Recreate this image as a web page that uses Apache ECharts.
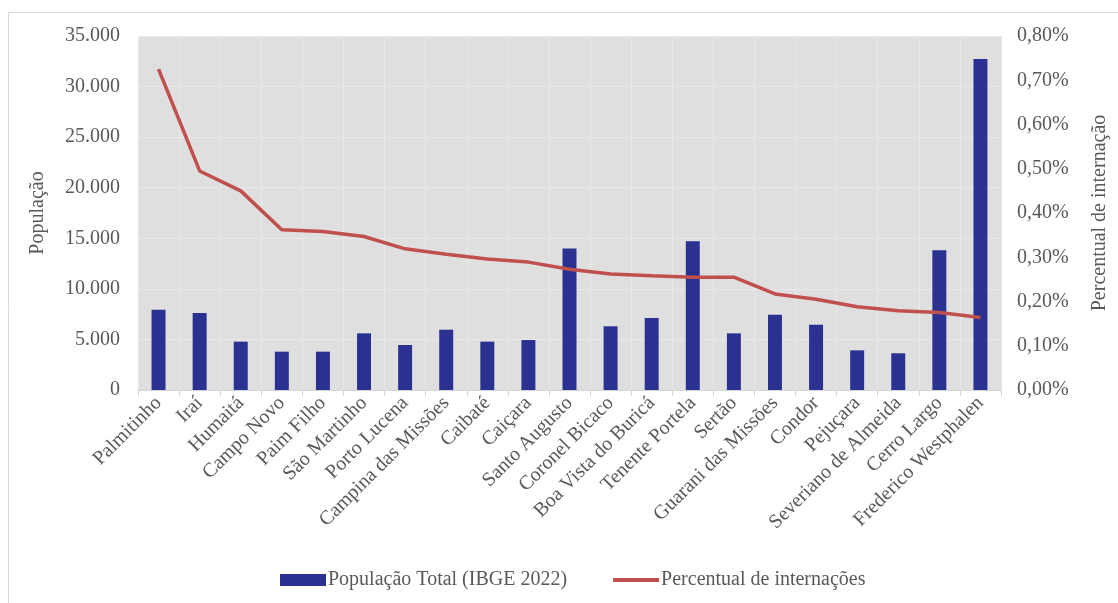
<!DOCTYPE html>
<html>
<head>
<meta charset="utf-8">
<script src="https://cdn.jsdelivr.net/npm/echarts@6/dist/echarts.min.js"></script>
<style>
html,body{margin:0;padding:0;background:#fff;}
#chart{width:1118px;height:603px;}
</style>
</head>
<body>
<div id="chart"></div>
<script>
const categories = ["Palmitinho","Iraí","Humaitá","Campo Novo","Paim Filho","São Martinho","Porto Lucena","Campina das Missões","Caibaté","Caiçara","Santo Augusto","Coronel Bicaco","Boa Vista do Buricá","Tenente Portela","Sertão","Guarani das Missões","Condor","Pejuçara","Severiano de Almeida","Cerro Largo","Frederico Westphalen"];
const populacao = [7940,7610,4780,3790,3790,5600,4450,5960,4780,4940,14000,6300,7120,14700,5600,7450,6460,3920,3630,13810,32720];
const percentual = [0.725,0.495,0.450,0.362,0.358,0.347,0.319,0.307,0.296,0.289,0.273,0.262,0.258,0.255,0.255,0.217,0.205,0.188,0.179,0.175,0.164];
const leftTicks = {min:0,max:35000,interval:5000};
const rightTicks = {min:0,max:0.8,interval:0.1};

const FONT = 'Liberation Serif';
const GREY = '#595959';
const FS = 20;
const chart = echarts.init(document.getElementById('chart'));
chart.setOption({
  backgroundColor:'#fff',
  textStyle:{fontFamily:FONT},
  graphic:[{type:'rect',shape:{x:8.5,y:12.5,width:1200,height:700},style:{fill:'none',stroke:'#d9d9d9',lineWidth:1},z:-10}],
  grid:{left:138,right:116,top:36,bottom:213,show:true,backgroundColor:'#dfdfdf',borderWidth:0},
  legend:{
    bottom:8,left:275,itemGap:46,
    textStyle:{fontFamily:FONT,fontSize:FS,color:GREY,padding:[0,0,0,-3]},
    data:[
      {name:'População Total (IBGE 2022)',icon:'rect',itemStyle:{color:'#2b3190'}},
      {name:'Percentual de internações',icon:'path://M0,0 L46,0 L46,4 L0,4 Z',itemStyle:{color:'#c0504d'}}
    ],
    itemWidth:46,itemHeight:12
  },
  xAxis:{
    type:'category',data:categories,
    axisLine:{show:true,lineStyle:{color:'#d4d4d4',width:1}},
    axisTick:{show:true,length:6,lineStyle:{color:'#d4d4d4'}},
    splitLine:{show:true,lineStyle:{color:'#e9e9e9',width:1}},
    axisLabel:{rotate:45,interval:0,fontFamily:FONT,fontSize:FS,color:GREY,margin:10}
  },
  yAxis:[{
    type:'value',min:leftTicks.min,max:leftTicks.max,interval:leftTicks.interval,
    name:'População',nameLocation:'middle',nameGap:90,nameRotate:90,
    nameTextStyle:{fontFamily:FONT,fontSize:FS,color:GREY},
    axisLine:{show:false},axisTick:{show:false},
    splitLine:{show:true,lineStyle:{color:'#e9e9e9',width:1}},
    axisLabel:{fontFamily:FONT,fontSize:FS,color:GREY,margin:18,
      formatter:v=>v===0?'0':v.toLocaleString('de-DE')}
  },{
    type:'value',min:rightTicks.min,max:rightTicks.max,interval:rightTicks.interval,position:'right',
    name:'Percentual de internação',nameLocation:'middle',nameGap:89,nameRotate:90,
    nameTextStyle:{fontFamily:FONT,fontSize:FS,color:GREY},
    axisLine:{show:false},axisTick:{show:false},splitLine:{show:false},
    axisLabel:{fontFamily:FONT,fontSize:FS,color:GREY,margin:16,
      formatter:v=>v.toFixed(2).replace('.',',')+'%'}
  }],
  series:[{
    name:'População Total (IBGE 2022)',type:'bar',data:populacao,yAxisIndex:0,
    barWidth:'34%',itemStyle:{color:'#2b3190'}
  },{
    name:'Percentual de internações',type:'line',data:percentual,yAxisIndex:1,
    showSymbol:false,symbol:'none',lineStyle:{color:'#c0504d',width:3.5},itemStyle:{color:'#c0504d'}
  }]
});
</script>
</body>
</html>
